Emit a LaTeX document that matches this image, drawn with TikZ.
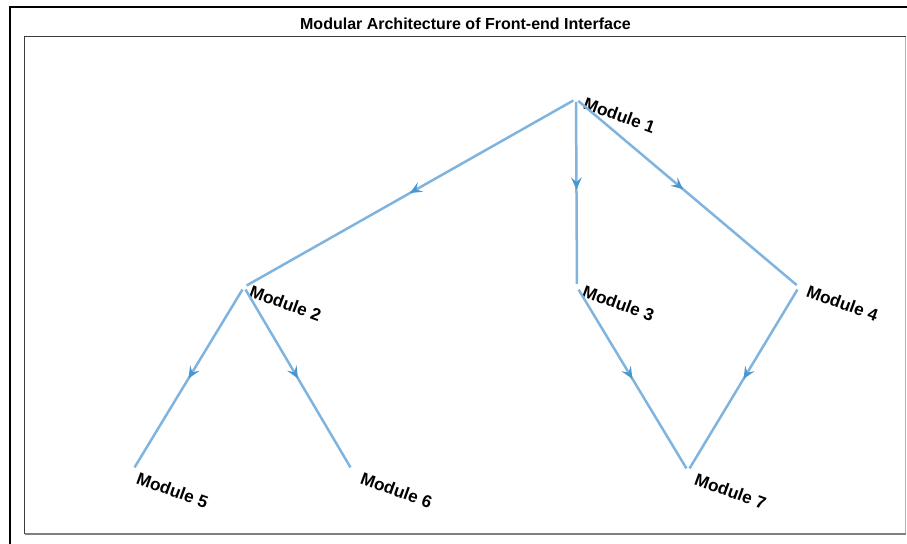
\documentclass[tikz,border=0pt]{standalone}
\usepackage{fontspec}
\setmainfont{Liberation Sans}
\usetikzlibrary{arrows.meta,decorations.markings}
\definecolor{edgeblue}{RGB}{128,180,222}
\definecolor{tipblue}{RGB}{70,150,208}
\definecolor{axdark}{RGB}{60,60,60}
\tikzset{
  gnode/.style={circle,inner sep=0pt,minimum size=2.6pt},
  glabel/.style={anchor=base west,rotate=-20,inner sep=0pt,
    font=\fontsize{8.6pt}{9pt}\selectfont\bfseries},
  gedge/.style={draw=edgeblue,line width=1.25pt,
    postaction={decorate,decoration={markings,
      mark=at position #1 with {\arrow[tipblue]{Stealth[length=6pt,width=5.4pt,inset=2.4pt]}}}}},
  gedge/.default=0.5
}
\begin{document}
\begin{tikzpicture}[x=0.5pt,y=0.5pt]
  \useasboundingbox (0,0) rectangle (907,544);
  % figure frame
  \draw[black,line width=1pt] (9.5,0) -- (9.5,536.5) -- (907,536.5);
  % axes box
  \draw[axdark,line width=0.5pt] (24.5,10) -- (24.5,507) -- (905.5,507);
  \draw[gray!60,line width=0.5pt] (905.5,507) -- (905.5,10);
  \draw[gray,line width=0.6pt] (24.5,10) -- (905.5,10);
  % title
  \node[anchor=base,inner sep=0pt,font=\fontsize{8pt}{9pt}\selectfont\bfseries]
    (title) at (465.5,514.5) {Modular Architecture of Front-end Interface};

  % modules
  \node[gnode] (m1) at (576,445) {};
  \node[gnode] (m2) at (244,257) {};
  \node[gnode] (m3) at (577,257) {};
  \node[gnode] (m4) at (799,257) {};
  \node[gnode] (m5) at (133,74) {};
  \node[gnode] (m6) at (352,74) {};
  \node[gnode] (m7) at (688,73) {};

  \node[glabel] (l1) at ([shift={(6,-9)}]m1.center) {Module 1};
  \node[glabel] (l2) at ([shift={(4,-9)}]m2.center) {Module 2};
  \node[glabel] (l3) at ([shift={(4,-9)}]m3.center) {Module 3};
  \node[glabel] (l4) at ([shift={(6,-9)}]m4.center) {Module 4};
  \node[glabel] (l5) at ([shift={(2,-13)}]m5.center) {Module 5};
  \node[glabel] (l6) at ([shift={(7,-13)}]m6.center) {Module 6};
  \node[glabel] (l7) at ([shift={(5,-13)}]m7.center) {Module 7};

  % dependencies
  \path[gedge=0.5]  (m1) -- (m2);
  \path[gedge=0.48] (m1) -- (m3);
  \path[gedge=0.48] (m1) -- (m4);
  \path[gedge=0.5]  (m2) -- (m5);
  \path[gedge=0.5]  (m2) -- (m6);
  \path[gedge=0.5]  (m3) -- (m7);
  \path[gedge=0.5]  (m4) -- (m7);
\end{tikzpicture}
\end{document}
